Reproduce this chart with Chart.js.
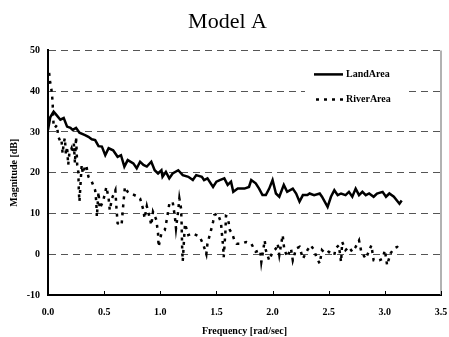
<!DOCTYPE html>
<html>
<head>
<meta charset="utf-8">
<title>Model A</title>
<script src="https://cdn.jsdelivr.net/npm/chart.js@4/dist/chart.umd.min.js"></script>
<style>
  html, body { margin: 0; padding: 0; background: #fff; }
  #wrap { width: 449px; height: 337px; }
</style>
</head>
<body>
<div id="wrap"><canvas id="magChart"></canvas></div>
<script>
// Land area response [rad/sec, dB]
const landFreq = [
  0.00, 0.02, 0.05, 0.08, 0.11, 0.14, 0.17, 0.20, 0.22, 0.25,
  0.28, 0.33, 0.36, 0.39, 0.42, 0.45, 0.48, 0.51, 0.54, 0.58,
  0.62, 0.65, 0.68, 0.71, 0.76, 0.79, 0.82, 0.85, 0.88, 0.92,
  0.95, 0.98, 1.01, 1.02, 1.05, 1.08, 1.11, 1.16, 1.20, 1.25,
  1.29, 1.32, 1.37, 1.39, 1.42, 1.47, 1.50, 1.53, 1.57, 1.60,
  1.63, 1.65, 1.69, 1.75, 1.79, 1.81, 1.85, 1.88, 1.91, 1.94,
  1.97, 2.00, 2.03, 2.06, 2.10, 2.13, 2.18, 2.21, 2.24, 2.27,
  2.31, 2.33, 2.37, 2.42, 2.44, 2.49, 2.52, 2.55, 2.58, 2.61,
  2.65, 2.68, 2.71, 2.74, 2.77, 2.80, 2.83, 2.86, 2.90, 2.93,
  2.98, 3.01, 3.04, 3.08, 3.13, 3.15
];
const landMag = [
  30.5, 33.6, 35.0, 34.0, 33.0, 33.4, 31.3, 31.0, 30.5, 31.0,
  29.8, 29.2, 28.8, 28.2, 28.0, 26.5, 26.4, 24.3, 26.0, 25.5,
  23.9, 24.3, 21.5, 23.1, 22.3, 21.1, 22.7, 21.9, 21.5, 22.7,
  20.6, 19.8, 20.6, 19.0, 20.2, 18.6, 19.8, 20.6, 19.4, 19.0,
  18.2, 19.4, 19.0, 18.2, 18.6, 16.5, 17.8, 18.2, 18.6, 17.0,
  17.8, 15.3, 16.1, 16.1, 16.5, 18.2, 17.4, 16.1, 14.5, 14.5,
  16.1, 18.2, 14.9, 14.1, 17.0, 15.3, 16.1, 14.9, 12.9, 14.5,
  14.5, 14.9, 14.5, 14.9, 14.1, 11.6, 14.1, 15.7, 14.5, 14.9,
  14.5, 15.3, 14.1, 16.1, 14.5, 15.3, 14.5, 14.9, 14.1, 14.9,
  15.3, 14.1, 14.9, 14.1, 12.4, 13.2
];

// River area response [rad/sec, dB]
const riverFreq = [
  0.01, 0.02, 0.03, 0.04, 0.05, 0.06, 0.08, 0.09, 0.11, 0.12,
  0.13, 0.14, 0.15, 0.16, 0.17, 0.18, 0.19, 0.21, 0.22, 0.23,
  0.24, 0.25, 0.26, 0.27, 0.275, 0.28, 0.30, 0.31, 0.33, 0.34,
  0.36, 0.39, 0.42, 0.43, 0.435, 0.45, 0.46, 0.49, 0.51, 0.52,
  0.54, 0.55, 0.57, 0.60, 0.61, 0.62, 0.655, 0.67, 0.685, 0.71,
  0.73, 0.80, 0.82, 0.85, 0.86, 0.88, 0.91, 0.92, 0.935, 0.965,
  0.98, 0.985, 1.01, 1.04, 1.06, 1.08, 1.11, 1.13, 1.14, 1.16,
  1.17, 1.185, 1.19, 1.195, 1.20, 1.22, 1.25, 1.29, 1.35, 1.38,
  1.41, 1.42, 1.45, 1.47, 1.48, 1.51, 1.54, 1.55, 1.56, 1.565,
  1.58, 1.585, 1.60, 1.62, 1.64, 1.66, 1.68, 1.72, 1.765, 1.81,
  1.85, 1.89, 1.90, 1.93, 1.94, 1.97, 2.00, 2.03, 2.045, 2.06,
  2.09, 2.105, 2.134, 2.149, 2.164, 2.18, 2.21, 2.24, 2.27, 2.31,
  2.34, 2.37, 2.39, 2.42, 2.44, 2.47, 2.50, 2.55, 2.56, 2.59,
  2.61, 2.62, 2.65, 2.68, 2.71, 2.74, 2.77, 2.79, 2.83, 2.88,
  2.90, 2.95, 2.98, 3.00, 3.02, 3.05, 3.08, 3.11, 3.14
];
const riverMag = [
  44.5, 42.0, 40.5, 37.8, 31.5, 31.0, 31.7, 29.0, 27.6, 28.0,
  24.7, 27.2, 28.5, 24.3, 26.4, 21.9, 24.7, 26.0, 24.8, 27.2,
  22.3, 28.8, 21.9, 20.2, 15.3, 12.9, 21.9, 19.8, 21.5, 21.9,
  19.0, 17.8, 15.7, 12.9, 9.2, 15.3, 11.2, 12.9, 15.3, 16.5,
  13.7, 10.8, 13.7, 15.7, 11.2, 7.6, 7.1, 12.0, 16.5, 15.3,
  15.0, 14.1, 13.7, 10.8, 8.8, 11.8, 8.4, 7.1, 10.4, 8.4,
  5.1, 1.8, 5.1, 5.9, 8.8, 12.3, 12.9, 9.2, 6.3, 10.8,
  13.7, 11.2, 7.5, 1.4, -1.7, 7.5, 4.7, 5.1, 4.3, 2.6,
  0.0, 2.6, 5.7, 7.9, 9.6, 10.0, 7.9, 4.7, 1.8, -0.7,
  5.5, 9.4, 9.2, 5.9, 5.1, 3.4, 2.6, 2.6, 3.0, 2.6,
  0.6, 1.0, -1.9, 3.4, 1.0, -1.5, 0.6, 1.4, 2.6, -0.2,
  4.7, 1.0, -0.7, 0.6, 1.4, -1.5, 1.4, 1.8, -1.1, 1.0,
  2.2, 1.0, -0.7, -2.3, 1.0, 0.2, 0.6, -0.2, 1.4, 2.2,
  -1.9, 3.0, 1.0, 1.8, 0.6, 1.8, 3.4, 0.6, -1.1, 2.2,
  -1.5, -1.5, -1.1, 1.0, -2.7, 0.2, 1.4, 1.8, 1.0
];

const seriesNames = ['LandArea', 'RiverArea'];

const toPoints = (xs, ys) => xs.map((x, i) => ({ x: x, y: ys[i] }));

Chart.defaults.font.family = '"Liberation Serif", "Times New Roman", serif';
Chart.defaults.color = '#000';

// frame on the right, inward x ticks and the boxed legend
const framePlugin = {
  id: 'frame',
  afterDraw(chart) {
    const { ctx, chartArea: a, scales } = chart;
    ctx.save();
    ctx.strokeStyle = '#999';
    ctx.lineWidth = 1.5;
    ctx.beginPath();
    ctx.moveTo(a.right, a.top);
    ctx.lineTo(a.right, a.bottom);
    ctx.stroke();

    ctx.strokeStyle = '#000';
    ctx.lineWidth = 1;
    scales.x.ticks.forEach(t => {
      const px = Math.round(scales.x.getPixelForValue(t.value)) + 0.5;
      ctx.beginPath();
      ctx.moveTo(px, a.bottom);
      ctx.lineTo(px, a.bottom - 4);
      ctx.stroke();
    });

    const bx = a.right - 136, by = a.top + 15;
    ctx.fillStyle = '#fff';
    ctx.fillRect(bx, by, 103, 44);
    ctx.font = 'bold 10px "Liberation Serif", serif';
    ctx.textBaseline = 'middle';
    ctx.fillStyle = '#000';
    chart.data.datasets.forEach((ds, i) => {
      const y = by + 9 + i * 25;
      ctx.strokeStyle = ds.borderColor;
      ctx.lineWidth = ds.borderWidth;
      ctx.setLineDash(ds.borderDash || []);
      ctx.beginPath();
      ctx.moveTo(bx + 9 + (i ? 2 : 0), y);
      ctx.lineTo(bx + 38, y);
      ctx.stroke();
      ctx.setLineDash([]);
      ctx.fillText(ds.label, bx + 41, y);
    });
    ctx.restore();
  }
};

new Chart(document.getElementById('magChart'), {
  type: 'line',
  data: {
    datasets: [{
      label: seriesNames[0],
      data: toPoints(landFreq, landMag),
      borderColor: '#000',
      borderWidth: 2.5,
      pointRadius: 0,
      tension: 0
    }, {
      label: seriesNames[1],
      data: toPoints(riverFreq, riverMag),
      borderColor: '#000',
      borderWidth: 2.5,
      borderDash: [3, 5],
      pointRadius: 0,
      tension: 0
    }]
  },
  options: {
    responsive: true,
    maintainAspectRatio: false,
    animation: false,
    layout: { padding: { left: 6, right: 0, top: 0, bottom: 0 } },
    plugins: {
      legend: { display: false },
      tooltip: { enabled: false },
      title: {
        display: true,
        text: 'Model A',
        font: { size: 22, weight: 'normal', family: '"Liberation Serif", serif' },
        padding: { top: 9, bottom: 15 }
      }
    },
    scales: {
      x: {
        type: 'linear',
        min: 0,
        max: 3.5,
        afterFit: scale => {
          scale.height = 42;
          scale.paddingRight = 8;
        },
        grid: { display: false, drawTicks: false },
        border: { display: true, color: '#000', width: 2 },
        ticks: {
          stepSize: 0.5,
          padding: 11,
          font: { size: 10, weight: 'bold' },
          callback: v => v.toFixed(1)
        },
        title: {
          display: true,
          text: 'Frequency [rad/sec]',
          font: { size: 10, weight: 'bold' },
          padding: { top: 7, bottom: 0 }
        }
      },
      y: {
        min: -10,
        max: 50,
        afterFit: scale => { scale.width = 42; },
        grid: { color: '#555', lineWidth: 1, drawTicks: false },
        border: { display: true, color: '#000', width: 2, dash: [7, 5] },
        ticks: {
          stepSize: 10,
          padding: 8,
          font: { size: 10, weight: 'bold' }
        },
        title: {
          display: true,
          text: 'Magnitude [dB]',
          font: { size: 10, weight: 'bold' },
          padding: { top: 2, bottom: 0 }
        }
      }
    }
  },
  plugins: [framePlugin]
});
</script>
</body>
</html>
